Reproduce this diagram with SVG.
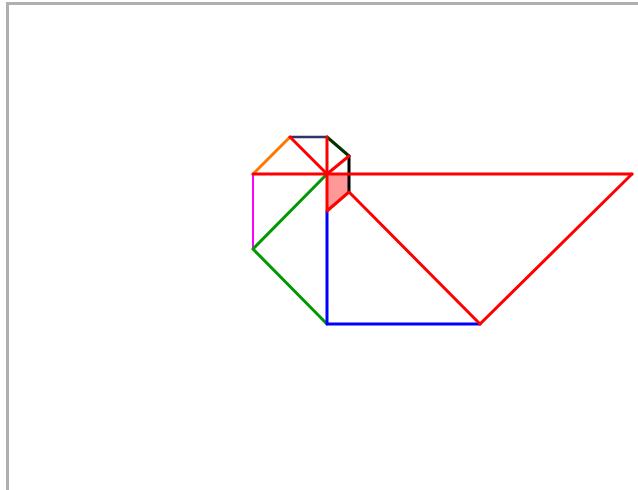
<svg xmlns="http://www.w3.org/2000/svg" width="638" height="490" viewBox="0 0 638 490">
<style>
.s{fill:none;stroke-linecap:round;stroke-linejoin:round}
.r{stroke:#ff0000;stroke-width:3}
.t{stroke-width:3}
</style>
<rect x="0" y="0" width="638" height="490" fill="#ffffff"/>
<path d="M7.5 492 V3.5 H640" fill="none" stroke="#b0b0b0" stroke-width="3"/>
<g id="shapes">
<polygon points="327,174 349,174 349,192 327,211" fill="#ff0000" fill-opacity="0.4" stroke="none"/>
<line class="s t" x1="253" y1="174" x2="290" y2="137" stroke="#ff7700"/>
<line class="s" x1="290" y1="137" x2="327" y2="137" stroke="#333366" stroke-width="2.5"/>
<line class="s" x1="327" y1="137" x2="349" y2="156" stroke="#003300" stroke-width="3"/>
<line class="s" x1="349" y1="156" x2="349" y2="192" stroke="#000000" stroke-width="3"/>
<line class="s" x1="253" y1="174" x2="253" y2="249" stroke="#ff00ff" stroke-width="2"/>
<polyline class="s t" points="327,174 253,249 327,324" stroke="#009900"/>
<polyline class="s" points="327,211 327,324 480,324" stroke="#0000ff" stroke-width="3"/>
<line class="s r" x1="253" y1="174" x2="632" y2="174"/>
<line class="s r" x1="290" y1="137" x2="327" y2="174"/>
<line class="s r" x1="327" y1="137" x2="327" y2="174"/>
<line class="s r" x1="327" y1="174" x2="349" y2="156"/>
<polyline class="s r" points="327,174 327,211 349,192 480,324 632,174"/>
</g>
</svg>
